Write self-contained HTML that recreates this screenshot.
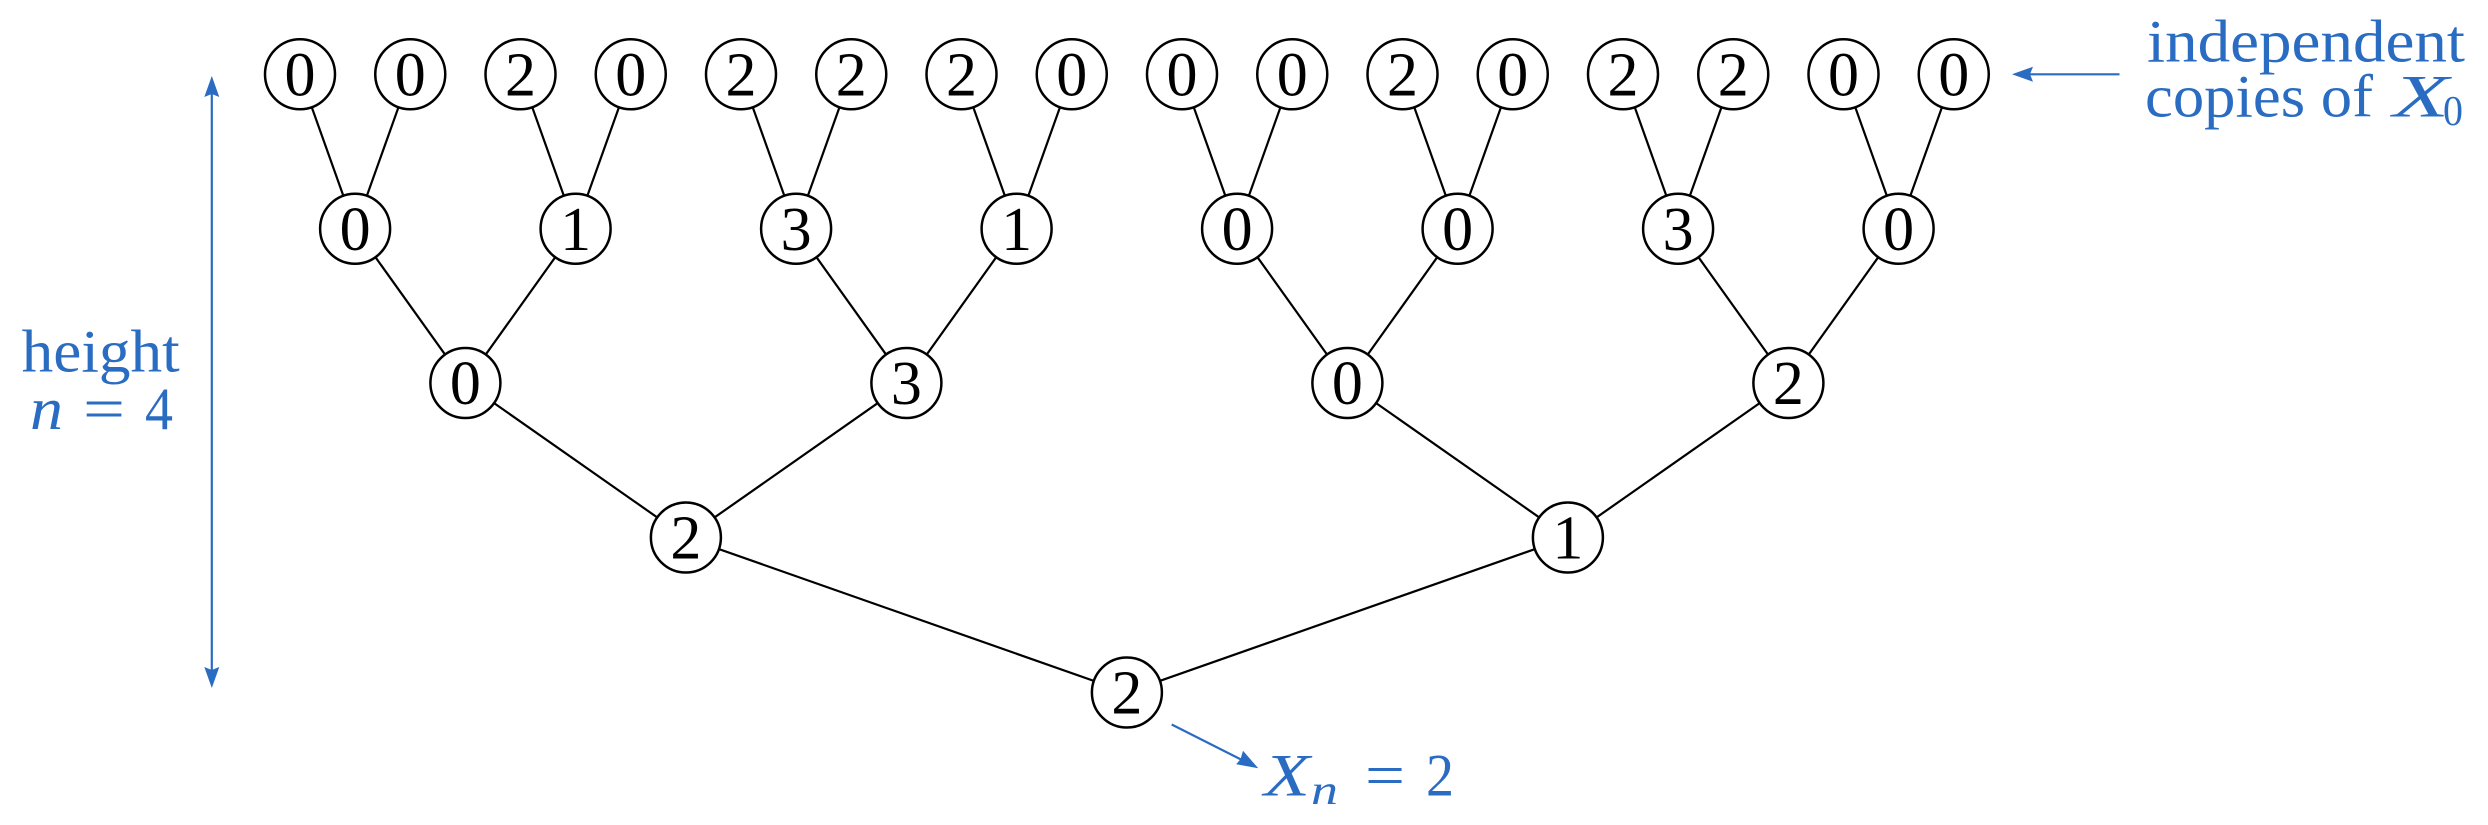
<!DOCTYPE html>
<html>
<head>
<meta charset="utf-8">
<style>
  html,body{margin:0;padding:0;background:#fff;}
  svg{display:block;}
  text{font-family:"Liberation Serif","DejaVu Serif","Noto Serif CJK SC",serif;}
</style>
</head>
<body>
<svg width="2488" height="825" viewBox="0 0 2488 825" xmlns="http://www.w3.org/2000/svg">
  <rect width="2488" height="825" fill="#fff"/>
  <g stroke="#000" stroke-width="2.2" fill="none">
    <line x1="355.1" y1="228.7" x2="300" y2="74.3"/>
    <line x1="355.1" y1="228.7" x2="410.25" y2="74.3"/>
    <line x1="575.6" y1="228.7" x2="520.5" y2="74.3"/>
    <line x1="575.6" y1="228.7" x2="630.75" y2="74.3"/>
    <line x1="796.1" y1="228.7" x2="741" y2="74.3"/>
    <line x1="796.1" y1="228.7" x2="851.25" y2="74.3"/>
    <line x1="1016.6" y1="228.7" x2="961.5" y2="74.3"/>
    <line x1="1016.6" y1="228.7" x2="1071.75" y2="74.3"/>
    <line x1="1237.1" y1="228.7" x2="1182" y2="74.3"/>
    <line x1="1237.1" y1="228.7" x2="1292.25" y2="74.3"/>
    <line x1="1457.6" y1="228.7" x2="1402.5" y2="74.3"/>
    <line x1="1457.6" y1="228.7" x2="1512.75" y2="74.3"/>
    <line x1="1678.1" y1="228.7" x2="1623" y2="74.3"/>
    <line x1="1678.1" y1="228.7" x2="1733.25" y2="74.3"/>
    <line x1="1898.6" y1="228.7" x2="1843.5" y2="74.3"/>
    <line x1="1898.6" y1="228.7" x2="1953.75" y2="74.3"/>
    <line x1="465.4" y1="383" x2="355.1" y2="228.7"/>
    <line x1="465.4" y1="383" x2="575.6" y2="228.7"/>
    <line x1="906.4" y1="383" x2="796.1" y2="228.7"/>
    <line x1="906.4" y1="383" x2="1016.6" y2="228.7"/>
    <line x1="1347.4" y1="383" x2="1237.1" y2="228.7"/>
    <line x1="1347.4" y1="383" x2="1457.6" y2="228.7"/>
    <line x1="1788.4" y1="383" x2="1678.1" y2="228.7"/>
    <line x1="1788.4" y1="383" x2="1898.6" y2="228.7"/>
    <line x1="685.9" y1="537.5" x2="465.4" y2="383"/>
    <line x1="685.9" y1="537.5" x2="906.4" y2="383"/>
    <line x1="1567.9" y1="537.5" x2="1347.4" y2="383"/>
    <line x1="1567.9" y1="537.5" x2="1788.4" y2="383"/>
    <line x1="1126.9" y1="692.5" x2="685.9" y2="537.5"/>
    <line x1="1126.9" y1="692.5" x2="1567.9" y2="537.5"/>
  </g>

  <g stroke="#000" stroke-width="2.5" fill="#fff">
    <circle cx="300" cy="74.3" r="35"/>
    <circle cx="410.25" cy="74.3" r="35"/>
    <circle cx="520.5" cy="74.3" r="35"/>
    <circle cx="630.75" cy="74.3" r="35"/>
    <circle cx="741" cy="74.3" r="35"/>
    <circle cx="851.25" cy="74.3" r="35"/>
    <circle cx="961.5" cy="74.3" r="35"/>
    <circle cx="1071.75" cy="74.3" r="35"/>
    <circle cx="1182" cy="74.3" r="35"/>
    <circle cx="1292.25" cy="74.3" r="35"/>
    <circle cx="1402.5" cy="74.3" r="35"/>
    <circle cx="1512.75" cy="74.3" r="35"/>
    <circle cx="1623" cy="74.3" r="35"/>
    <circle cx="1733.25" cy="74.3" r="35"/>
    <circle cx="1843.5" cy="74.3" r="35"/>
    <circle cx="1953.75" cy="74.3" r="35"/>
    <circle cx="355.1" cy="228.7" r="35"/>
    <circle cx="575.6" cy="228.7" r="35"/>
    <circle cx="796.1" cy="228.7" r="35"/>
    <circle cx="1016.6" cy="228.7" r="35"/>
    <circle cx="1237.1" cy="228.7" r="35"/>
    <circle cx="1457.6" cy="228.7" r="35"/>
    <circle cx="1678.1" cy="228.7" r="35"/>
    <circle cx="1898.6" cy="228.7" r="35"/>
    <circle cx="465.4" cy="383" r="35"/>
    <circle cx="906.4" cy="383" r="35"/>
    <circle cx="1347.4" cy="383" r="35"/>
    <circle cx="1788.4" cy="383" r="35"/>
    <circle cx="685.9" cy="537.5" r="35"/>
    <circle cx="1567.9" cy="537.5" r="35"/>
    <circle cx="1126.9" cy="692.5" r="35"/>
  </g>

  <g font-family="Liberation Serif, DejaVu Serif, Noto Serif CJK SC, serif" font-size="62" fill="#000" text-anchor="middle">
    <text x="300" y="95.5">0</text>
    <text x="410.25" y="95.5">0</text>
    <text x="520.5" y="95.5">2</text>
    <text x="630.75" y="95.5">0</text>
    <text x="741" y="95.5">2</text>
    <text x="851.25" y="95.5">2</text>
    <text x="961.5" y="95.5">2</text>
    <text x="1071.75" y="95.5">0</text>
    <text x="1182" y="95.5">0</text>
    <text x="1292.25" y="95.5">0</text>
    <text x="1402.5" y="95.5">2</text>
    <text x="1512.75" y="95.5">0</text>
    <text x="1623" y="95.5">2</text>
    <text x="1733.25" y="95.5">2</text>
    <text x="1843.5" y="95.5">0</text>
    <text x="1953.75" y="95.5">0</text>

    <text x="355.1" y="249.9">0</text>
    <text x="575.6" y="249.9">1</text>
    <text x="796.1" y="249.9">3</text>
    <text x="1016.6" y="249.9">1</text>
    <text x="1237.1" y="249.9">0</text>
    <text x="1457.6" y="249.9">0</text>
    <text x="1678.1" y="249.9">3</text>
    <text x="1898.6" y="249.9">0</text>

    <text x="465.4" y="404.2">0</text>
    <text x="906.4" y="404.2">3</text>
    <text x="1347.4" y="404.2">0</text>
    <text x="1788.4" y="404.2">2</text>

    <text x="685.9" y="558.7">2</text>
    <text x="1567.9" y="558.7">1</text>

    <text x="1126.9" y="713.7">2</text>
  </g>

  <g stroke="#2a6cc2" stroke-width="2.2" fill="none">
    <line x1="211.8" y1="92" x2="211.8" y2="672"/>
    <line x1="2028" y1="74.3" x2="2119.5" y2="74.3"/>
    <line x1="1171.7" y1="724.5" x2="1241" y2="759.5"/>
  </g>
  <g fill="#2a6cc2" stroke="none">
    <path d="M211.8 76 L219.3 97 L211.8 94 L204.3 97 Z"/>
    <path d="M211.8 688 L219.3 667 L211.8 670 L204.3 667 Z"/>
    <path d="M2012 74.3 L2033 66.8 L2030 74.3 L2033 81.8 Z"/>
    <path d="M1258.3 768.3 L1236.2 764.2 L1240.5 759.3 L1243 750.8 Z"/>
  </g>

  <g font-family="Liberation Serif, DejaVu Serif, Noto Serif CJK SC, serif" font-size="60" fill="#2a6cc2">
    <text x="21.7" y="371.5" textLength="158" lengthAdjust="spacingAndGlyphs">height</text>
    <text x="30" y="429" font-style="italic" textLength="33" lengthAdjust="spacingAndGlyphs">n</text>
    <text x="83" y="429" textLength="42" lengthAdjust="spacingAndGlyphs">=</text>
    <text x="145" y="429" textLength="28" lengthAdjust="spacingAndGlyphs">4</text>

    <text x="2147" y="61.7" textLength="318" lengthAdjust="spacingAndGlyphs">independent</text>
    <text x="2145" y="116.5" textLength="228" lengthAdjust="spacingAndGlyphs">copies of</text>
    <text x="2393" y="116.5" font-style="italic" textLength="56" lengthAdjust="spacingAndGlyphs">X</text>
    <text x="2443" y="125" font-size="42" textLength="20" lengthAdjust="spacingAndGlyphs">0</text>

    <text x="1264" y="795.5" font-style="italic" textLength="46" lengthAdjust="spacingAndGlyphs">X</text>
    <text x="1311" y="804" font-style="italic" font-size="42" textLength="27" lengthAdjust="spacingAndGlyphs">n</text>
    <text x="1365" y="795.5" textLength="40" lengthAdjust="spacingAndGlyphs">=</text>
    <text x="1426" y="795.5" textLength="28" lengthAdjust="spacingAndGlyphs">2</text>
  </g>
</svg>
</body>
</html>
